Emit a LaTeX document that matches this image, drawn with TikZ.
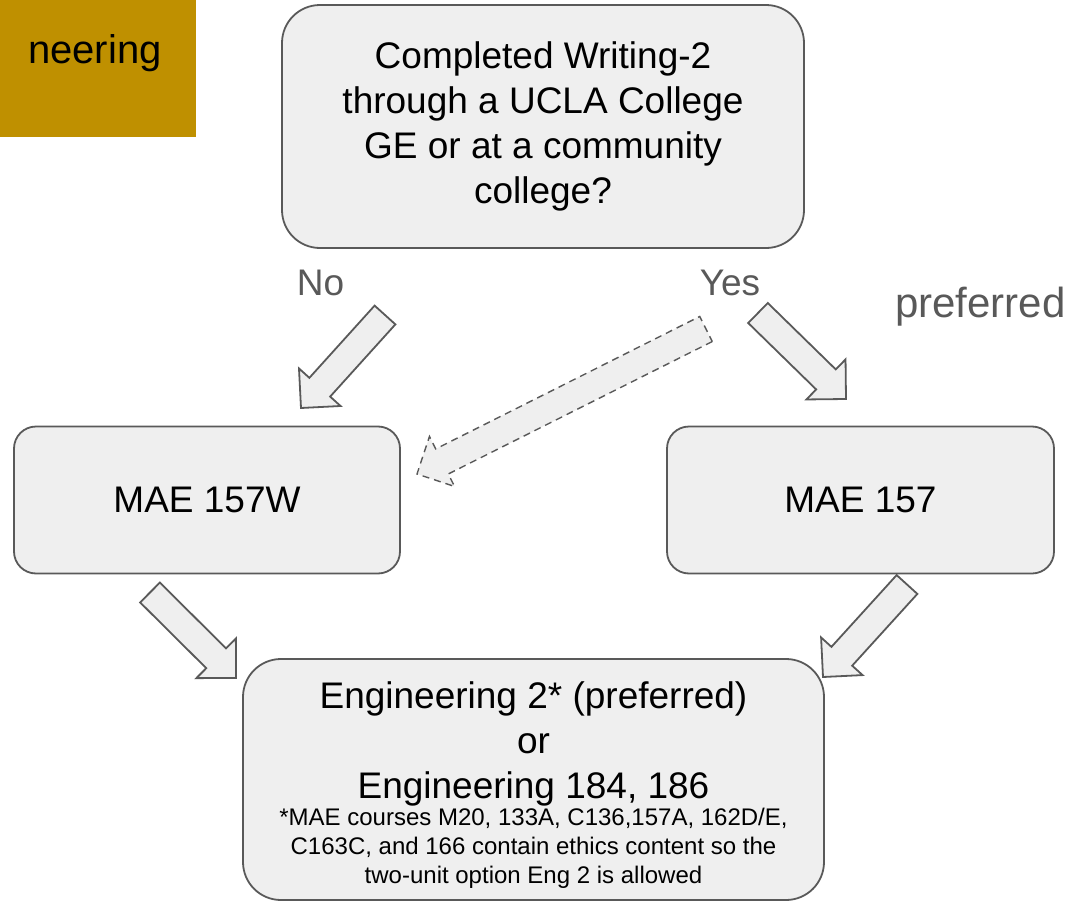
\documentclass[tikz,border=0pt]{standalone}
\usepackage{fontspec}
\setmainfont{Liberation Sans}
\usetikzlibrary{calc}
\definecolor{boxfill}{HTML}{EFEFEF}
\definecolor{boxline}{HTML}{595959}
\definecolor{gold}{HTML}{BF9000}
\begin{document}
\begin{tikzpicture}[x=1pt,y=-1pt,
  box/.style={draw=boxline,fill=boxfill,line width=1.8pt,align=center,
    font=\fontsize{37}{45}\selectfont},
  lbl/.style={text=boxline,inner sep=0,anchor=base,font=\fontsize{37}{45}\selectfont},
  blockarr/.style={draw=boxline,fill=boxfill,line width=1.8pt,line join=miter,
    to path={($(\tikztostart)!14pt!90:(\tikztotarget)$)
      -- ($($(\tikztotarget)!28pt!(\tikztostart)$)!14pt!90:(\tikztotarget)$)
      -- ($($(\tikztotarget)!28pt!(\tikztostart)$)!28pt!90:(\tikztotarget)$)
      -- (\tikztotarget)
      -- ($($(\tikztotarget)!28pt!(\tikztostart)$)!28pt!-90:(\tikztotarget)$)
      -- ($($(\tikztotarget)!28pt!(\tikztostart)$)!14pt!-90:(\tikztotarget)$)
      -- ($(\tikztostart)!14pt!-90:(\tikztotarget)$) -- cycle}}]
\useasboundingbox (0,0) rectangle (1072,902);
\fill[gold] (0,0) rectangle (196,137);
\node[inner sep=0,anchor=base west,font=\fontsize{40}{48}\selectfont] (title) at (28,63) {neering};
% question and the two courses
\node[box,minimum width=522,minimum height=243,rounded corners=38] (q) at (543,126.5)
  {Completed Writing-2\\through a UCLA College\\GE or at a community\\college?};
\node[box,minimum width=386,minimum height=147,rounded corners=22] (w) at (207,500) {MAE 157W};
\node[box,minimum width=387,minimum height=147,rounded corners=22] (m) at (860.5,500) {MAE 157};
\node[box,minimum width=581,minimum height=241,rounded corners=38] (eng) at (533.5,779.5) {};
\node[align=center,inner sep=0,font=\fontsize{37}{45}\selectfont] (engtxt) at (533.5,743.5)
  {Engineering 2* (preferred)\\or\\Engineering 184, 186};
\node[align=center,inner sep=0,font=\fontsize{24}{29}\selectfont] (note) at (533.5,848)
  {*MAE courses M20, 133A, C136,157A, 162D/E,\\C163C, and 166 contain ethics content so the\\two-unit option Eng 2 is allowed};
\node[lbl] (no) at (320.5,295) {No};
\node[lbl] (yes) at (730,295) {Yes};
\node[lbl,anchor=base west,font=\fontsize{42}{50}\selectfont] (pref) at (895,317) {preferred};
% block arrows
\coordinate (notail) at (385,315);   \coordinate (nohead) at (301,408);
\coordinate (yestail) at (758,313);  \coordinate (yeshead) at (846,399);
\coordinate (alttail) at (706,329);  \coordinate (althead) at (417,474);
\coordinate (wtail) at (150,592.5);  \coordinate (whead) at (236,678);
\coordinate (mtail) at (907,584.5);  \coordinate (mhead) at (823,677);
\draw[blockarr] (notail) to (nohead);
\draw[blockarr] (yestail) to (yeshead);
\draw[blockarr,line width=1.4pt,dash pattern=on 7pt off 5pt] (alttail) to (althead);
\draw[blockarr] (wtail) to (whead);
\draw[blockarr] (mtail) to (mhead);
\end{tikzpicture}
\end{document}
